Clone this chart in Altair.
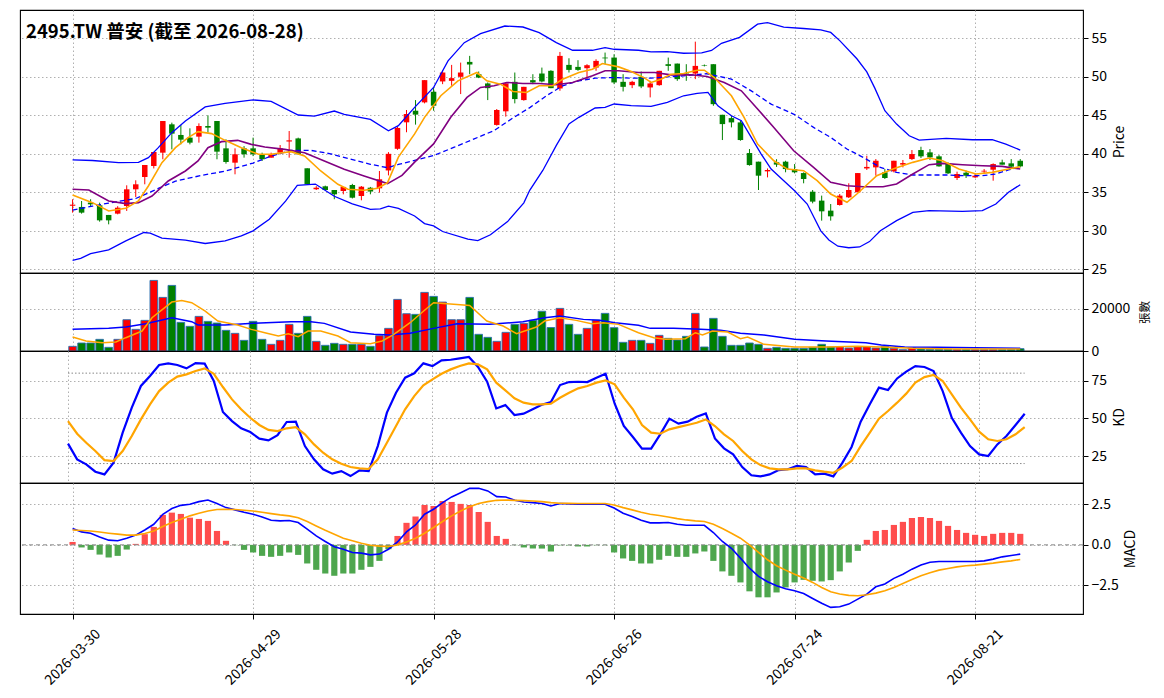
import altair as alt
import pandas as pd

# ---------------- data ----------------
title_text = "2495.TW 普安 (截至 2026-08-28)"
tick_idx = [0, 20, 40, 60, 80, 100]
tick_dates = ["2026-03-30", "2026-04-29", "2026-05-28", "2026-06-26", "2026-07-24", "2026-08-21"]

opens = [33.25, 33.1, 33.66, 33.31, 32.06, 32.23, 33.22, 35.39, 36.99, 38.42,
         40.15, 43.83, 42.45, 42.1, 42.23, 43.61, 44.26, 40.71, 38.85, 40.71,
         40.71, 39.94, 39.5, 40.15, 41.6, 42.0, 38.12, 35.4, 35.78, 35.3,
         35.17, 35.95, 34.52, 35.6, 35.52, 37.84, 40.65, 44.09, 45.6, 46.68,
         48.06, 49.4, 49.48, 50.0, 51.94, 50.34, 49.14, 43.75, 45.52, 49.35,
         46.98, 49.57, 50.43, 50.78, 48.49, 51.55, 51.29, 51.12, 51.2, 52.5,
         52.5, 49.35, 48.92, 50.0, 48.62, 48.92, 51.64, 51.72, 50.43, 50.43,
         51.5, 51.64, 45.07, 44.64, 44.08, 40.1, 38.98, 37.72, 38.9, 38.98,
         38.02, 37.5, 35.08, 33.92, 32.62, 33.35, 34.35, 35.0, 38.1, 38.24,
         37.6, 37.72, 38.6, 39.32, 40.49, 40.19, 39.67, 38.76, 36.86, 37.55,
         36.94, 37.7, 37.94, 38.89, 38.76, 39.1]
highs = [34.1, 33.87, 34.1, 33.66, 32.06, 33.2, 35.91, 36.56, 38.55, 40.24,
         44.26, 44.05, 43.74, 43.31, 43.96, 45.0, 44.26, 41.88, 40.71, 41.0,
         42.1, 40.15, 40.15, 41.14, 42.96, 42.1, 38.12, 35.8, 35.87, 35.3,
         35.7, 36.1, 35.82, 35.7, 37.77, 40.22, 43.53, 45.69, 46.98, 49.57,
         48.62, 50.86, 51.55, 51.85, 52.72, 50.69, 49.27, 45.82, 49.27, 50.56,
         48.7, 50.34, 51.2, 50.86, 53.23, 52.41, 52.16, 51.64, 52.28, 53.15,
         52.93, 50.34, 49.48, 50.69, 49.48, 50.78, 52.5, 51.72, 51.64, 54.57,
         51.6, 51.64, 45.07, 44.94, 44.3, 40.62, 38.98, 38.1, 39.3, 39.1,
         38.67, 37.59, 35.3, 34.57, 33.48, 34.78, 36.17, 37.5, 39.75, 39.32,
         38.02, 39.1, 39.2, 40.49, 40.92, 40.62, 39.84, 38.89, 37.68, 37.81,
         37.38, 38.02, 38.76, 39.24, 39.32, 39.32]
lows = [32.36, 32.23, 33.2, 31.19, 30.84, 32.14, 32.58, 34.39, 36.04, 38.1,
        39.29, 40.58, 41.23, 41.23, 41.45, 42.75, 39.29, 38.72, 37.34, 39.5,
        39.7, 39.07, 39.5, 39.94, 39.5, 39.94, 35.95, 35.3, 35.26, 34.1,
        34.74, 34.2, 33.96, 34.74, 34.96, 37.2, 40.52, 42.8, 43.79, 46.55,
        45.6, 49.05, 48.84, 47.76, 50.34, 49.83, 46.98, 43.66, 44.83, 46.55,
        46.9, 49.05, 49.27, 48.53, 48.19, 50.56, 50.78, 49.57, 50.78, 51.64,
        49.05, 48.1, 48.53, 48.53, 47.33, 48.84, 50.78, 49.48, 49.48, 49.7,
        51.35, 46.24, 41.79, 43.43, 41.7, 38.46, 35.3, 36.94, 38.3, 37.6,
        37.46, 36.17, 33.57, 31.32, 31.32, 33.27, 34.26, 35.0, 37.9, 37.16,
        36.73, 37.59, 38.24, 39.19, 39.45, 39.19, 38.33, 37.38, 36.6, 36.86,
        36.86, 37.38, 36.51, 38.59, 38.24, 38.24]
closes = [33.4, 32.36, 33.44, 31.36, 31.36, 33.0, 35.39, 36.04, 38.55, 40.24,
          44.26, 42.62, 41.84, 41.45, 43.61, 43.4, 40.28, 38.94, 39.94, 39.94,
          39.94, 39.29, 39.94, 40.71, 41.75, 39.94, 36.04, 35.6, 35.3, 34.74,
          35.7, 34.3, 35.73, 35.1, 36.69, 40.0, 43.36, 45.17, 45.09, 49.57,
          46.25, 50.56, 49.83, 50.56, 51.6, 49.9, 48.53, 45.69, 49.14, 47.11,
          48.7, 49.27, 49.4, 48.53, 52.72, 50.9, 50.9, 51.51, 52.07, 52.4,
          49.27, 48.7, 49.35, 48.75, 49.14, 50.78, 51.42, 49.7, 50.26, 51.42,
          51.43, 46.45, 43.86, 44.08, 41.79, 38.54, 37.16, 37.9, 38.6, 38.02,
          37.6, 36.73, 33.79, 32.53, 31.88, 34.57, 35.3, 37.5, 38.3, 39.1,
          36.86, 39.1, 38.8, 39.97, 39.67, 39.54, 38.37, 37.46, 37.38, 37.16,
          37.16, 37.8, 38.67, 38.59, 38.33, 38.37]
volumes = [2200, 3780, 3780, 5510, 1730, 5510, 14800, 10240, 14490, 33390,
           25360, 31030, 13550, 11660, 16380, 14020, 13230, 9770, 8350, 5040,
           14020, 5510, 3150, 5040, 12600, 8350, 16380, 4570, 2680, 3620,
           3150, 3150, 3150, 2200, 7250, 10710, 24410, 17640, 17330, 27720,
           25830, 23150, 14800, 14800, 25360, 7880, 6460, 4570, 8820, 12600,
           13070, 14490, 18800, 11100, 20160, 12600, 7875, 10710, 14650, 17800,
           11025, 4100, 5040, 5040, 3620, 7400, 5985, 5200, 6930, 17800,
           1900, 15435, 6930, 2680, 2680, 3780, 3150, 1260, 1730, 1260,
           1260, 1260, 1730, 3150, 1890, 2050, 1420, 2050, 2050, 1420,
           2200, 1260, 630, 1575, 945, 790, 790, 790, 630, 630,
           630, 630, 630, 630, 790, 1100]

ma5_x = [0, 2.2, 4.0, 5.9, 7.3, 8.4, 9.9, 11.4, 12.8, 13.9, 15.4, 16.9, 18.7, 20.6, 22.0,
         24.2, 25.7, 27.5, 29.4, 30.5, 32.3, 33.8, 34.9, 36.1, 37.9, 39.0, 40.8, 42.7, 44.8,
         45.9, 47.4, 48.8, 50.3, 51.7, 53.2, 54.3, 56.1, 57.6, 58.7, 60.5, 61.9, 63.4, 64.1,
         65.2, 66.3, 67.7, 69.2, 70.0, 71.1, 73.0, 74.4, 75.9, 77.7, 79.2, 81.0, 82.5, 84.0,
         85.8, 86.9, 89.1, 90.9, 93.1, 94.9, 96.4, 98.2, 100.1, 101.9, 103.7, 105.0]
ma5_y = [34.65, 33.66, 32.58, 32.92, 33.87, 35.82, 38.85, 40.8, 42.1, 42.88, 42.62, 41.75, 40.8,
         39.94, 39.94, 40.28, 39.72, 37.77, 36.04, 35.39, 35.26, 35.52, 36.26, 39.57, 42.59,
         44.74, 47.54, 49.48, 50.56, 49.48, 49.05, 48.1, 47.97, 48.84, 48.84, 49.7, 50.56,
         50.99, 51.72, 51.29, 50.69, 49.83, 49.27, 49.7, 50.34, 50.43, 50.86, 50.86, 49.91,
         47.54, 44.73, 41.27, 39.1, 38.02, 37.81, 36.51, 34.78, 33.7, 34.78, 37.16, 38.02,
         38.89, 39.45, 39.1, 38.02, 37.38, 37.59, 38.02, 38.33]

ma10_x = [0, 1.8, 4.0, 5.9, 7.3, 8.8, 10.6, 12.5, 13.9, 15.0, 16.5, 18.3, 19.8, 21.3, 23.5,
          25.7, 27.9, 30.1, 32.3, 34.9, 36.5, 37.9, 40.0, 41.9, 43.7, 45.2, 46.7, 48.1, 49.9,
          51.7, 53.6, 55.4, 57.6, 59.0, 60.5, 62.7, 64.5, 66.3, 68.5, 70.3, 72.2, 74.1, 75.9,
          77.7, 79.9, 82.1, 84.0, 85.8, 87.6, 89.8, 91.3, 93.1, 94.9, 96.4, 98.6, 100.8, 103.0,
          105.0]
ma10_y = [35.39, 35.3, 33.87, 33.53, 33.66, 34.52, 36.47, 37.77, 39.07, 40.8, 41.58, 41.75,
          41.23, 40.89, 40.58, 40.15, 39.07, 37.99, 37.12, 36.13, 37.2, 38.92, 41.29, 44.74,
          47.33, 48.62, 48.84, 49.27, 49.14, 49.14, 48.97, 49.27, 50.13, 50.78, 50.78, 50.56,
          50.56, 50.26, 50.26, 50.04, 49.27, 48.18, 45.81, 43.43, 40.4, 38.24, 36.3, 35.86,
          35.73, 35.73, 36.08, 37.38, 38.59, 38.76, 38.59, 38.46, 38.37, 38.02]

ma20_x = [0, 2.2, 4.0, 7.0, 9.5, 11.4, 14.3, 16.9, 20.0, 22.0, 24.2, 26.4, 28.6, 30.8, 33.0,
          34.9, 36.1, 37.9, 40.0, 42.3, 44.5, 46.7, 48.9, 50.7, 52.5, 54.3, 56.1, 57.9, 60.0,
          61.9, 64.1, 65.9, 67.7, 70.3, 73.0, 75.2, 77.4, 80.0, 82.1, 84.0, 85.8, 87.6, 89.5,
          91.3, 93.1, 94.9, 97.1, 98.6, 100.8, 102.3, 103.7, 105.0]
ma20_y = [32.7, 33.2, 33.6, 34.2, 35.5, 36.45, 37.2, 37.75, 38.8, 39.7, 40.45, 40.45, 40.0,
          39.3, 38.64, 38.2, 38.62, 39.14, 39.78, 40.86, 41.94, 43.02, 44.74, 46.03, 47.54,
          48.84, 49.48, 49.83, 49.91, 49.83, 49.83, 50.0, 50.13, 50.4, 49.7, 48.18, 46.45,
          45.1, 43.43, 42.13, 40.62, 39.54, 38.24, 37.59, 37.25, 37.25, 37.25, 37.16, 37.16,
          37.38, 37.9, 38.33]

bbu_x = [0, 2.2, 5.1, 7.3, 8.4, 9.5, 11.0, 12.5, 14.7, 16.9, 20.0, 22.0, 25.0, 26.8, 29.0,
         30.1, 33.0, 35.0, 36.1, 37.9, 40.0, 41.6, 43.4, 45.2, 47.9, 49.9, 51.7, 53.6, 55.4,
         57.6, 59.0, 60.0, 62.7, 64.1, 65.9, 67.7, 69.7, 70.8, 71.9, 73.9, 75.9, 77.0, 78.8,
         81.0, 82.9, 84.0, 85.0, 86.9, 88.0, 88.9, 90.0, 91.3, 92.7, 93.8, 96.8, 99.7, 101.9,
         103.4, 105.0]
bbu_y = [39.22, 39.13, 38.85, 38.9, 39.5, 40.8, 42.75, 44.26, 46.1, 46.56, 47.0, 46.8, 45.04,
         44.9, 45.56, 45.13, 44.48, 43.0, 43.66, 46.03, 48.62, 52.07, 54.44, 55.6, 56.6, 56.47,
         55.73, 54.44, 53.45, 53.45, 53.8, 53.58, 53.45, 53.23, 53.28, 53.06, 53.12, 53.42,
         54.36, 55.13, 56.84, 57.05, 56.45, 56.28, 56.1, 55.77, 54.7, 52.35, 50.64, 48.5,
         45.6, 43.86, 42.35, 41.79, 42.0, 41.83, 41.83, 41.27, 40.49]

bbl_x = [0, 0.9, 2.0, 4.0, 5.9, 7.9, 8.6, 9.9, 12.5, 14.7, 16.9, 18.7, 20.0, 21.8, 23.6, 24.9,
         26.9, 29.0, 31.0, 33.0, 34.1, 35.0, 36.1, 37.9, 39.0, 40.0, 41.0, 43.8, 44.9, 46.3,
         48.2, 50.0, 50.65, 52.1, 53.6, 55.0, 56.1, 57.9, 59.0, 60.0, 61.9, 64.1, 65.9, 67.7,
         69.2, 70.4, 71.5, 73.0, 74.1, 75.2, 76.3, 77.4, 78.8, 80.0, 81.4, 82.9, 83.8, 84.8,
         86.0, 87.2, 88.3, 89.5, 91.3, 93.1, 94.9, 98.6, 100.8, 102.3, 103.7, 105.0]
bbl_y = [26.17, 26.43, 27.04, 27.52, 28.7, 29.78, 29.7, 29.04, 28.78, 28.35, 28.7, 29.35, 30.0,
         31.5, 33.85, 35.9, 36.07, 34.49, 33.5, 32.78, 32.86, 33.2, 32.9, 31.92, 30.94, 30.64,
         29.91, 28.93, 28.72, 29.49, 31.2, 33.63, 35.26, 37.84, 41.1, 43.88, 44.74, 45.95,
         46.03, 46.47, 46.25, 46.16, 46.68, 47.54, 47.84, 47.97, 46.24, 44.94, 44.3, 42.13,
         39.97, 38.02, 36.51, 35.21, 33.48, 30.0, 28.8, 28.0, 27.8, 27.9, 28.6, 30.0, 31.32,
         32.4, 32.62, 32.53, 32.62, 33.48, 35.0, 35.99]

vma_b_x = [0, 4.0, 5.9, 8.1, 11.0, 13.2, 13.9, 16.9, 20.0, 24.2, 26.4, 27.9, 30.8, 33.4, 35.2,
           37.4, 40.0, 42.6, 46.2, 49.9, 52.3, 54.0, 56.6, 58.4, 60.1, 62.7, 64.0, 66.6, 69.6,
           71.8, 74.0, 76.6, 80.0, 83.5, 87.9, 89.6, 92.2, 95.7, 100.0, 105.0]
vma_b_y = [10240, 10710, 11340, 12900, 15750, 13860, 12285, 12285, 13070, 13860, 13860, 13070,
           8980, 7875, 7560, 8350, 10710, 12900, 12600, 13860, 15750, 16540, 14960, 14490,
           13390, 12130, 10710, 10710, 10240, 9770, 8350, 7560, 5510, 4725, 3940, 2835, 1890,
           1730, 1575, 1260]
vma_o_x = [0, 1.5, 3.3, 4.8, 5.9, 7.7, 8.8, 11.0, 12.1, 13.2, 14.7, 16.1, 18.3, 19.8, 21.3,
           22.8, 23.9, 25.0, 26.1, 27.5, 29.4, 30.8, 33.0, 34.3, 35.6, 37.4, 38.9, 40.0, 42.6,
           44.0, 45.9, 47.7, 49.2, 51.4, 52.3, 54.0, 55.8, 57.5, 58.8, 60.5, 62.7, 64.4, 65.7,
           67.9, 69.0, 69.8, 70.9, 72.6, 74.0, 74.8, 76.6, 80.0, 83.5, 87.0, 89.6, 93.1, 97.8,
           105.0]
vma_o_y = [6615, 4725, 3940, 4250, 6300, 9450, 15750, 23150, 23940, 22840, 18900, 14175, 12285,
           10240, 8660, 7090, 8190, 6770, 9450, 9450, 7090, 3940, 3465, 4725, 7875, 13390, 18900,
           22840, 22050, 21580, 14175, 11810, 8190, 11340, 14175, 15750, 14490, 12915, 13390,
           12600, 8660, 6300, 5510, 5830, 8660, 7560, 9450, 8980, 5830, 6615, 3150, 1890, 1890,
           2200, 1890, 1260, 945, 945]

k_vals = [33.2, 22.8, 19.5, 14.6, 12.8, 20.6, 40.5, 57.1, 71.5, 78.1, 85.4, 86.5, 85.4, 83.2,
          86.7, 86.3, 74.8, 54.2, 48.2, 43.4, 40.9, 36.5, 35.4, 38.9, 47.6, 47.8, 31.6, 22.8,
          16.2, 13.3, 15.0, 11.7, 15.5, 15.0, 31.6, 53.8, 67.0, 77.0, 79.9, 86.5, 84.7, 88.5,
          88.9, 89.8, 90.7, 84.1, 74.3, 56.6, 58.8, 52.2, 53.1, 56.0, 59.0, 60.8, 72.1, 74.1,
          74.3, 74.1, 77.0, 79.6, 59.7, 44.9, 37.6, 29.9, 29.9, 39.4, 49.8, 46.5, 47.8, 51.1,
          53.3, 36.7, 30.1, 26.1, 17.7, 12.2, 11.5, 12.8, 15.7, 16.2, 18.4, 17.7, 12.8, 13.3,
          11.5, 20.6, 31.0, 47.8, 59.3, 70.4, 68.8, 76.5, 81.0, 84.7, 84.1, 81.4, 68.1, 50.4,
          40.5, 31.6, 26.1, 25.0, 32.7, 38.3, 45.6, 53.1]
d_vals = [48.2, 39.8, 33.8, 28.3, 22.3, 21.7, 28.3, 38.3, 49.3, 59.3, 68.1, 73.7, 77.7, 79.2,
          81.4, 83.2, 79.6, 70.8, 62.6, 56.0, 50.4, 45.6, 42.3, 41.6, 43.4, 44.2, 39.4, 32.7,
          27.2, 22.8, 19.9, 17.7, 16.8, 16.4, 22.8, 33.8, 44.9, 56.0, 64.8, 71.9, 75.9, 79.6,
          82.5, 84.7, 86.5, 85.8, 82.5, 73.7, 68.6, 63.3, 60.4, 59.3, 59.3, 59.7, 63.7, 67.0,
          69.9, 71.5, 73.7, 75.2, 72.6, 63.7, 56.0, 45.6, 40.5, 39.8, 42.7, 44.2, 45.6, 47.1,
          49.3, 44.9, 39.4, 35.0, 28.3, 22.8, 19.0, 16.8, 16.2, 16.2, 16.8, 16.8, 15.5, 14.6,
          13.9, 17.3, 21.7, 31.6, 40.5, 49.8, 54.9, 60.4, 66.4, 73.7, 77.4, 78.8, 74.8, 65.9,
          57.1, 49.3, 41.2, 36.1, 35.0, 36.1, 39.4, 44.2]

dif_vals = [1.01, 0.80, 0.72, 0.49, 0.29, 0.25, 0.41, 0.60, 0.92, 1.27, 1.89, 2.24, 2.44, 2.51,
            2.67, 2.77, 2.55, 2.30, 2.16, 2.01, 1.89, 1.72, 1.52, 1.48, 1.50, 1.38, 0.97, 0.55,
            0.21, -0.12, -0.27, -0.47, -0.51, -0.62, -0.57, -0.27, 0.18, 0.80, 1.23, 1.89, 2.20,
            2.61, 2.96, 3.22, 3.49, 3.49, 3.33, 2.98, 2.96, 2.75, 2.65, 2.61, 2.55, 2.40, 2.55,
            2.53, 2.51, 2.51, 2.51, 2.51, 2.28, 1.95, 1.75, 1.52, 1.36, 1.36, 1.38, 1.27, 1.21,
            1.21, 1.21, 0.76, 0.21, -0.21, -0.82, -1.44, -1.95, -2.28, -2.53, -2.71, -2.83, -3.0,
            -3.31, -3.61, -3.86, -3.82, -3.66, -3.35, -3.04, -2.59, -2.42, -2.07, -1.81, -1.50,
            -1.25, -1.07, -1.03, -1.03, -1.03, -1.03, -1.03, -0.99, -0.88, -0.74, -0.66, -0.57]
dea_vals = [0.92, 0.89, 0.86, 0.79, 0.72, 0.66, 0.60, 0.60, 0.70, 0.86, 1.13, 1.38, 1.58, 1.79,
            1.95, 2.09, 2.18, 2.20, 2.18, 2.14, 2.09, 2.01, 1.93, 1.85, 1.79, 1.68, 1.44, 1.17,
            0.90, 0.66, 0.41, 0.25, 0.10, -0.02, -0.08, -0.10, 0.00, 0.18, 0.41, 0.72, 1.07,
            1.44, 1.79, 2.09, 2.36, 2.55, 2.67, 2.75, 2.77, 2.75, 2.73, 2.71, 2.67, 2.61, 2.57,
            2.56, 2.55, 2.55, 2.55, 2.55, 2.46, 2.30, 2.16, 2.01, 1.89, 1.81, 1.72, 1.62, 1.54,
            1.48, 1.44, 1.27, 1.01, 0.72, 0.41, 0.0, -0.47, -0.92, -1.29, -1.56, -1.81, -2.05,
            -2.32, -2.63, -2.90, -3.04, -3.12, -3.14, -3.08, -2.98, -2.83, -2.63, -2.38, -2.14,
            -1.91, -1.72, -1.56, -1.46, -1.36, -1.29, -1.25, -1.19, -1.13, -1.05, -0.99, -0.90]
hist_vals = [0.18, -0.16, -0.31, -0.60, -0.78, -0.68, -0.29, 0.06, 0.66, 1.11, 1.85, 1.99, 1.91,
             1.68, 1.60, 1.48, 0.86, 0.25, -0.02, -0.31, -0.47, -0.68, -0.74, -0.68, -0.47, -0.62,
             -1.15, -1.54, -1.77, -1.91, -1.77, -1.77, -1.54, -1.36, -0.99, -0.27, 0.55, 1.36,
             1.75, 2.46, 2.40, 2.71, 2.65, 2.53, 2.46, 2.03, 1.42, 0.55, 0.37, -0.02, -0.16,
             -0.23, -0.23, -0.41, -0.03, -0.03, -0.10, -0.10, -0.02, -0.02, -0.47, -0.84, -0.99,
             -1.15, -1.15, -0.92, -0.68, -0.74, -0.74, -0.53, -0.41, -0.99, -1.64, -1.91, -2.32,
             -2.87, -3.24, -3.24, -2.94, -2.63, -2.32, -2.16, -2.22, -2.26, -2.18, -1.64, -1.09,
             -0.37, 0.31, 0.86, 0.92, 1.23, 1.42, 1.66, 1.72, 1.66, 1.48, 1.17, 0.92, 0.74, 0.62,
             0.55, 0.68, 0.74, 0.74, 0.68]

kd_levels = [80, 20]

# ---------------- tables ----------------
n = len(closes)
idx = list(range(n))
RED, GREEN = "#ff0000", "#008000"
cdf = pd.DataFrame({"x": idx, "o": opens, "h": highs, "l": lows, "c": closes, "v": volumes})
cdf["col"] = [RED if c >= o else GREEN for o, c in zip(opens, closes)]

kd = pd.DataFrame({"x": idx, "k": k_vals, "d": d_vals})
macd = pd.DataFrame({"x": idx, "dif": dif_vals, "dea": dea_vals, "h": hist_vals})
macd["col"] = ["#ff4d4d" if h >= 0 else "#4ea64e" for h in hist_vals]


def line_df(xs, ys):
    return pd.DataFrame({"x": xs, "y": ys})


# ---------------- scales / axes ----------------
XS = alt.Scale(domain=[-5.27, 111.4], nice=False, zero=False)
label_expr = " : ".join(f"datum.value == {i} ? '{d}'" for i, d in zip(tick_idx, tick_dates)) + " : ''"


def X(field, bottom=False):
    if bottom:
        ax = alt.Axis(values=tick_idx, labelExpr=label_expr, labelAngle=315, labelAlign="center",
                      labelBaseline="middle", labelPadding=38, tickSize=5, grid=True, title=None,
                      labelOverlap=False, labelFlush=False, labelFontSize=14)
    else:
        ax = alt.Axis(values=tick_idx, labels=False, ticks=False, grid=True, title=None)
    return alt.X(field, type="quantitative", scale=XS, axis=ax)


def yaxis(values, title, fmt=None, title_size=14, title_pad=4):
    kw = dict(orient="right", values=values, title=title, titleAngle=270, titleBaseline="top",
              titlePadding=title_pad, tickSize=5, labelPadding=3, grid=True, labelFontSize=14,
              titleFontSize=title_size)
    if fmt:
        kw["format"] = fmt
    return alt.Axis(**kw)


P_SCALE = alt.Scale(domain=[24.52, 58.68], nice=False, zero=False)
P_AXIS = yaxis([25, 30, 35, 40, 45, 50, 55], "Price", title_pad=6)
V_SCALE = alt.Scale(domain=[0, 36900], nice=False)
V_AXIS = yaxis([0, 20000], "張數", fmt="d", title_size=11.5, title_pad=10)
K_SCALE = alt.Scale(domain=[7.1, 94.7], nice=False, zero=False)
K_AXIS = yaxis([25, 50, 75], "KD", title_pad=6)
M_SCALE = alt.Scale(domain=[-4.27, 3.82], nice=False, zero=False)
M_AXIS = yaxis([-2.5, 0, 2.5], "MACD", fmt=".1f", title_pad=5)

W = 1063

# ---------------- price panel ----------------
pb = alt.Chart(cdf)
wicks = pb.mark_rule(strokeWidth=1).encode(
    x=X("x"), y=alt.Y("l:Q", scale=P_SCALE, axis=P_AXIS), y2="h:Q",
    color=alt.Color("col:N", scale=None))
bodies = pb.mark_bar(size=5.5).encode(
    x=X("x"), y=alt.Y("o:Q", scale=P_SCALE, axis=P_AXIS), y2="c:Q",
    color=alt.Color("col:N", scale=None))


def pline(xs, ys, color, width, dash=None):
    kw = dict(color=color, strokeWidth=width)
    if dash:
        kw["strokeDash"] = dash
    return alt.Chart(line_df(xs, ys)).mark_line(**kw).encode(
        x=X("x"), y=alt.Y("y:Q", scale=P_SCALE, axis=P_AXIS))


title_layer = alt.Chart(pd.DataFrame({"t": [title_text]})).mark_text(
    align="left", baseline="middle", fontSize=18.5, fontWeight="bold", color="black"
).encode(x=alt.value(6), y=alt.value(22), text="t:N")

price = alt.layer(
    wicks, bodies,
    pline(bbu_x, bbu_y, "#0000ff", 1.3),
    pline(bbl_x, bbl_y, "#0000ff", 1.3),
    pline(ma20_x, ma20_y, "#0000ff", 1.3, [5, 3]),
    pline(ma10_x, ma10_y, "#800080", 1.6),
    pline(ma5_x, ma5_y, "#ffa500", 1.6),
    title_layer,
).properties(width=W, height=263)

# ---------------- volume panel ----------------
vbars = alt.Chart(cdf).mark_bar(size=7.6, stroke="#2a6fb0", strokeWidth=0.9).encode(
    x=X("x"), y=alt.Y("v:Q", scale=V_SCALE, axis=V_AXIS), color=alt.Color("col:N", scale=None))


def vline(xs, ys, color):
    return alt.Chart(line_df(xs, ys)).mark_line(color=color, strokeWidth=1.5).encode(
        x=X("x"), y=alt.Y("y:Q", scale=V_SCALE, axis=V_AXIS))


volume = alt.layer(vbars, vline(vma_b_x, vma_b_y, "#0000ff"), vline(vma_o_x, vma_o_y, "#ffa500")
                   ).properties(width=W, height=78)

# ---------------- KD panel ----------------
ref = pd.DataFrame({"y": kd_levels, "x0": [0, 0], "x1": [n - 1, n - 1]})
kd_ref = alt.Chart(ref).mark_rule(color="#888888", strokeDash=[1.5, 2], strokeWidth=1).encode(
    x=X("x0"), x2="x1:Q", y=alt.Y("y:Q", scale=K_SCALE, axis=K_AXIS))
k_line = alt.Chart(kd).mark_line(color="#0000ff", strokeWidth=2.2).encode(
    x=X("x"), y=alt.Y("k:Q", scale=K_SCALE, axis=K_AXIS))
d_line = alt.Chart(kd).mark_line(color="#ffa500", strokeWidth=2.2).encode(
    x=X("x"), y=alt.Y("d:Q", scale=K_SCALE, axis=K_AXIS))
kdp = alt.layer(kd_ref, k_line, d_line).properties(width=W, height=132)

# ---------------- MACD panel ----------------
mb = alt.Chart(macd)
zero_line = alt.Chart(pd.DataFrame({"z": [0]})).mark_rule(
    color="#888888", strokeDash=[4, 3], strokeWidth=1
).encode(y=alt.Y("z:Q", scale=M_SCALE, axis=M_AXIS))
hist = mb.mark_bar(size=6.2).encode(
    x=X("x", bottom=True), y=alt.Y("h:Q", scale=M_SCALE, axis=M_AXIS), y2=alt.datum(0),
    color=alt.Color("col:N", scale=None))
dif_line = mb.mark_line(color="#0000ff", strokeWidth=1.6).encode(
    x=X("x", bottom=True), y=alt.Y("dif:Q", scale=M_SCALE, axis=M_AXIS))
dea_line = mb.mark_line(color="#ffa500", strokeWidth=1.6).encode(
    x=X("x", bottom=True), y=alt.Y("dea:Q", scale=M_SCALE, axis=M_AXIS))
macdp = alt.layer(hist, zero_line, dif_line, dea_line).properties(width=W, height=131)

chart = alt.vconcat(price, volume, kdp, macdp, spacing=0, bounds="flush").properties(
    padding={"left": 10, "top": 1, "right": 4, "bottom": 2}
).configure(font="Noto Sans CJK TC").configure_view(
    stroke="black", strokeWidth=1.1
).configure_axis(
    labelFont="Noto Sans CJK TC", titleFont="Noto Sans CJK TC", labelColor="black",
    titleColor="black", titleFontWeight="normal", gridColor="#b0b0b0", gridDash=[1.5, 2.5],
    gridWidth=1, tickColor="black", domain=False
)

chart.save("out.html", embed_options={"renderer": "svg", "actions": False})
